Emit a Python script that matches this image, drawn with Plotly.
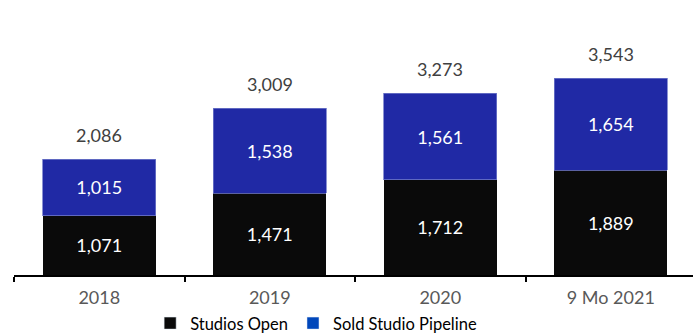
import plotly.graph_objects as go

# Studio counts by period
categories = ["2018", "2019", "2020", "9 Mo 2021"]
studios_open = [1071, 1471, 1712, 1889]
sold_pipeline = [1015, 1538, 1561, 1654]
totals = [a + b for a, b in zip(studios_open, sold_pipeline)]

BAR_BLACK = "#0a0a0a"
BAR_BLUE = "#2029a5"
LEGEND_BLUE = "#0047bb"
FONT = "Lato"

fig = go.Figure()

fig.add_trace(go.Bar(
    x=categories, y=studios_open, name="Studios Open",
    marker=dict(color=BAR_BLACK, line=dict(width=0)),
    texttemplate="%{y:,}", textposition="inside", insidetextanchor="middle",
    textfont=dict(color="white", size=18, family=FONT),
    showlegend=False,
))
fig.add_trace(go.Bar(
    x=categories, y=sold_pipeline, name="Sold Studio Pipeline",
    marker=dict(color=BAR_BLUE, line=dict(width=0.8, color="#6f78c8")),
    texttemplate="%{y:,}", textposition="inside", insidetextanchor="middle",
    textfont=dict(color="white", size=18, family=FONT),
    showlegend=False,
))

# Legend entries
fig.add_trace(go.Bar(x=[None], y=[None], name="Studios Open",
                     marker=dict(color=BAR_BLACK), showlegend=True))
fig.add_trace(go.Bar(x=[None], y=[None], name="Sold Studio Pipeline",
                     marker=dict(color=LEGEND_BLUE), showlegend=True))

# Total labels above each stack (x given as category index)
for i, tot in enumerate(totals):
    fig.add_annotation(
        x=i, y=tot, text=f"{tot:,}", showarrow=False,
        yanchor="bottom", yshift=11,
        font=dict(size=18, color="#404040", family=FONT),
    )

fig.update_layout(
    width=693, height=334,
    margin=dict(l=14, r=0, t=53, b=59, autoexpand=False),
    paper_bgcolor="white", plot_bgcolor="white",
    barmode="stack", bargap=0.337,
    font=dict(family=FONT),
    legend=dict(
        orientation="h", x=0.445, xanchor="center", y=-0.218, yanchor="middle",
        font=dict(size=16.5, color="#000000", family=FONT),
        itemwidth=30, tracegroupgap=0, traceorder="normal",
    ),
    xaxis=dict(
        type="category",
        range=[-0.5, 3.482],
        showline=True, linecolor="#000000", linewidth=1.5,
        ticks="outside", tickson="boundaries", ticklen=5, tickcolor="#000000", tickwidth=1.5,
        tickfont=dict(size=18, color="#595959", family=FONT),
        ticklabelstandoff=6,
        showgrid=False, zeroline=False,
    ),
    yaxis=dict(range=[0, 4000], visible=False, showgrid=False, zeroline=False),
)

fig.write_html("out.html")
